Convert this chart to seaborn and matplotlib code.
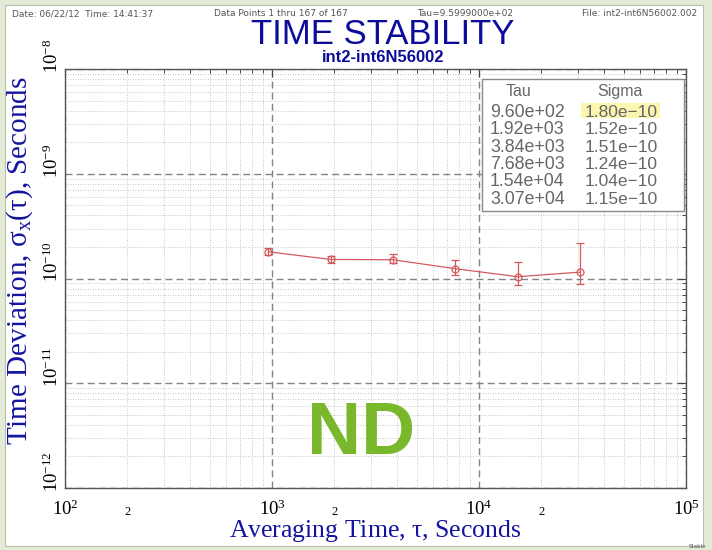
import numpy as np
import pandas as pd
import matplotlib
matplotlib.use("Agg")
import matplotlib.pyplot as plt
import matplotlib.transforms as mtransforms
import seaborn as sns
from matplotlib.ticker import FixedLocator, FixedFormatter, NullFormatter
from matplotlib.patches import Rectangle

# ---- data ----
tau = [960, 1920, 3840, 7680, 15400, 30700]
sigma = [1.80e-10, 1.52e-10, 1.51e-10, 1.24e-10, 1.04e-10, 1.15e-10]
err_low = [1.67e-10, 1.41e-10, 1.40e-10, 1.09e-10, 0.86e-10, 0.89e-10]
err_high = [1.94e-10, 1.63e-10, 1.73e-10, 1.51e-10, 1.45e-10, 2.16e-10]
tau_labels = ["9.60e+02", "1.92e+03", "3.84e+03", "7.68e+03", "1.54e+04", "3.07e+04"]
sigma_labels = ["1.80e\u221210", "1.52e\u221210", "1.51e\u221210", "1.24e\u221210", "1.04e\u221210", "1.15e\u221210"]
x_major = [1e2, 1e3, 1e4, 1e5]
x_major_labels = [r"$\mathregular{10^{2}}$", r"$\mathregular{10^{3}}$", r"$\mathregular{10^{4}}$", r"$\mathregular{10^{5}}$"]
y_major = [1e-12, 1e-11, 1e-10, 1e-9, 1e-8]
y_major_labels = [r"$\mathregular{10^{-12}}$", r"$\mathregular{10^{-11}}$", r"$\mathregular{10^{-10}}$", r"$\mathregular{10^{-9}}$", r"$\mathregular{10^{-8}}$"]

df = pd.DataFrame({"tau": tau, "sigma": sigma})

sns.set_theme(style="white")
plt.rcParams["mathtext.fontset"] = "stix"
plt.rcParams["font.family"] = ["Liberation Serif", "DejaVu Serif"]

W, H = 712, 550
fig = plt.figure(figsize=(W / 100, H / 100), dpi=100)
fig.patch.set_facecolor("#e4ecd8")

def fx(px):
    return px / W

def fy(py):
    return 1 - py / H

# white page (behind everything)
fig.patches.append(Rectangle((fx(5), fy(546)), fx(703) - fx(5), fy(5) - fy(546),
                             transform=fig.transFigure, facecolor="white",
                             edgecolor="#b8c0ad", lw=0.8, zorder=-10))

ax = fig.add_axes([fx(65), fy(488), fx(686) - fx(65), fy(69) - fy(488)])
ax.set_zorder(1)
ax.set_facecolor("white")
ax.set_xscale("log")
ax.set_yscale("log")

red = "#d45a5e"
yerr = np.array([np.array(sigma) - np.array(err_low), np.array(err_high) - np.array(sigma)])
ax.errorbar(tau, sigma, yerr=yerr, fmt="none", ecolor=red, elinewidth=0.9, capsize=3, capthick=0.9, zorder=4)
sns.lineplot(data=df, x="tau", y="sigma", ax=ax, color=red, lw=0.9, marker="o",
             markersize=5, markerfacecolor="none", markeredgecolor=red, markeredgewidth=0.9, zorder=5)
ax.set_xlabel("")
ax.set_ylabel("")
ax.set_xlim(1e2, 1e5)
ax.set_ylim(1e-12, 1e-8)

# ticks
ax.xaxis.set_major_locator(FixedLocator(x_major))
ax.xaxis.set_major_formatter(FixedFormatter(x_major_labels))
xminor = [v * m for v in x_major[:-1] for m in range(2, 10)]
ax.xaxis.set_minor_locator(FixedLocator(xminor))
ax.xaxis.set_minor_formatter(FixedFormatter(["2" if (i % 8 == 0) else "" for i in range(len(xminor))]))
ax.yaxis.set_major_locator(FixedLocator(y_major))
ax.yaxis.set_major_formatter(FixedFormatter(y_major_labels))
yminor = [v * m for v in y_major[:-1] for m in range(2, 10)]
ax.yaxis.set_minor_locator(FixedLocator(yminor))
ax.yaxis.set_minor_formatter(NullFormatter())

ax.tick_params(which="both", direction="in", top=True, right=True, color="#444444")
ax.tick_params(which="major", length=6, width=0.8)
ax.tick_params(which="minor", length=3, width=0.7)
ax.tick_params(axis="x", which="major", labelsize=13.5, pad=8, labelcolor="black")
ax.tick_params(axis="x", which="minor", labelsize=9, pad=13, labelcolor="black")
ax.tick_params(axis="y", which="major", labelsize=13.5, pad=2, labelrotation=90, labelcolor="black")
shift = mtransforms.ScaledTranslation(0, -4 / 100, fig.dpi_scale_trans)
for t in ax.get_yticklabels():
    t.set_va("bottom")
    t.set_transform(t.get_transform() + shift)

ax.grid(which="major", color="#848484", lw=1.0, ls=(0, (5, 3)))
ax.grid(which="minor", color="#b5b5b5", lw=0.6, ls=(0, (1, 2)))
for s in ax.spines.values():
    s.set_color("#555555")
    s.set_linewidth(1.0)

blue = "#1414a0"
fig.text(fx(375), fy(531), r"Averaging Time, $\mathregular{\tau}$, Seconds", ha="center", va="center",
         fontsize=18.5, color=blue)
fig.text(fx(20), fy(261), r"Time Deviation, $\mathregular{\sigma_x(\tau)}$, Seconds", ha="center", va="center",
         rotation=90, fontsize=21, color=blue)

# titles
sans = ["Liberation Sans Narrow", "Liberation Sans", "DejaVu Sans"]
fig.text(fx(383), fy(34), "TIME STABILITY", ha="center", va="center", fontsize=25,
         color="#0c0c9a", family=sans)
fig.text(fx(383), fy(57), "int2-int6N56002", ha="center", va="center", fontsize=12,
         color="#0c0c9a", family=sans, fontweight="bold")

hdr = dict(fontsize=6.5, color="#555555", family=["DejaVu Sans"], va="center")
fig.text(fx(12), fy(14), "Date: 06/22/12  Time: 14:41:37", ha="left", **hdr)
fig.text(fx(281), fy(14), "Data Points 1 thru 167 of 167", ha="center", **hdr)
fig.text(fx(465), fy(14), "Tau=9.5999000e+02", ha="center", **hdr)
fig.text(fx(697), fy(14), "File: int2-int6N56002.002", ha="right", **hdr)
fig.text(fx(706), fy(546), "Stable", ha="right", va="center", fontsize=4, color="#555555",
         family=["DejaVu Sans"])

# table
fig.patches.append(Rectangle((fx(482), fy(211)), fx(684) - fx(482), fy(79) - fy(211),
                             transform=fig.transFigure, facecolor="white",
                             edgecolor="#8a8a8a", lw=1.0, zorder=5))
fig.patches.append(Rectangle((fx(581), fy(118)), fx(660) - fx(581), fy(103) - fy(118),
                             transform=fig.transFigure, facecolor="#fbf6b0",
                             edgecolor="none", zorder=6))
tcol = "#666666"
tfont = ["Liberation Sans", "DejaVu Sans"]
fig.text(fx(519), fy(91), "Tau", ha="center", va="center", fontsize=11.5, color=tcol, family=tfont, zorder=7)
fig.text(fx(620), fy(91), "Sigma", ha="center", va="center", fontsize=11.5, color=tcol, family=tfont, zorder=7)
for i, (a, b) in enumerate(zip(tau_labels, sigma_labels)):
    y = 112.5 + i * 17.3
    fig.text(fx(490), fy(y), a, ha="left", va="center", fontsize=12.8, color=tcol, family=tfont, zorder=7)
    fig.text(fx(585), fy(y), b, ha="left", va="center", fontsize=12.5, color=tcol, family=tfont, zorder=7)

# ND watermark
fig.text(fx(361), fy(434), "ND", ha="center", va="center", fontsize=54, fontweight="bold",
         color="#78b82a", family=["Liberation Sans", "DejaVu Sans"], zorder=8)

fig.savefig("out.png", dpi=100, facecolor=fig.get_facecolor())
